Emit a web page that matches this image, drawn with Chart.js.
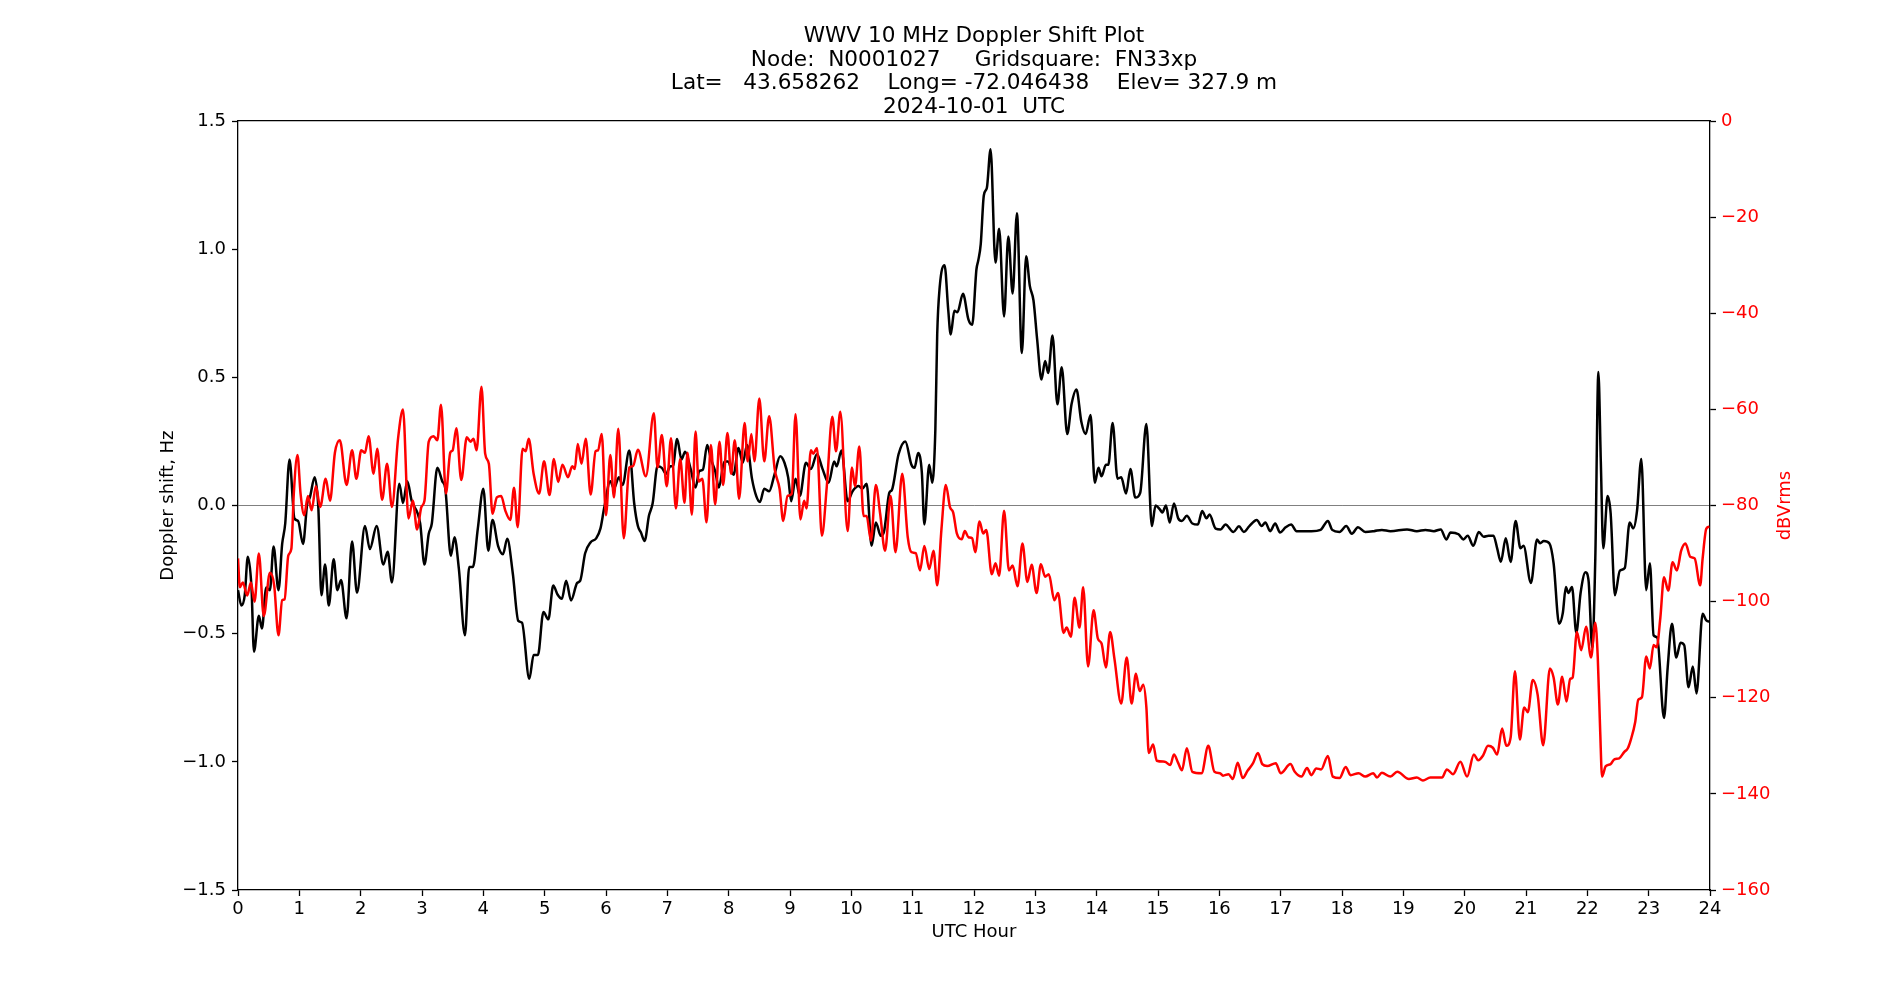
<!DOCTYPE html>
<html>
<head>
<meta charset="utf-8">
<title>WWV 10 MHz Doppler Shift Plot</title>
<script src="https://cdn.jsdelivr.net/npm/chart.js@4.4.1/dist/chart.umd.min.js"></script>
<style>
  html, body { margin: 0; padding: 0; background: #ffffff; }
  #doppler { display: block; }
</style>
</head>
<body>
<canvas id="doppler" width="1900" height="1000"></canvas>
<script>
// doppler plot – WWV 10 MHz, node N0001027, 2024-10-01

const titleLines = [
  "WWV 10 MHz Doppler Shift Plot",
  "Node:  N0001027     Gridsquare:  FN33xp",
  "Lat=   43.658262    Long= -72.046438    Elev= 327.9 m",
  "2024-10-01  UTC"
];

// black trace: Doppler shift (Hz) vs UTC hour
const dopplerHours = [
  0.00, 0.055, 0.11, 0.16, 0.22, 0.26, 0.34, 0.39, 0.46, 0.52, 0.58, 0.66, 0.72, 0.77, 0.84, 0.92, 0.98,
  1.06, 1.13, 1.17, 1.25, 1.31, 1.36, 1.42, 1.48, 1.56, 1.62, 1.68, 1.77, 1.86, 1.94,
  2.07, 2.15, 2.26, 2.37, 2.44, 2.51, 2.63, 2.69, 2.76, 2.83, 2.97,
  3.04, 3.11, 3.16, 3.25, 3.33, 3.38, 3.47, 3.53, 3.60, 3.70, 3.77, 3.83, 3.91,
  4.00, 4.08, 4.15, 4.24, 4.32, 4.39, 4.48, 4.57, 4.63, 4.75, 4.82, 4.89, 4.98,
  5.06, 5.14, 5.21, 5.28, 5.35, 5.43, 5.53, 5.58, 5.66, 5.75, 5.84, 5.91, 5.97,
  6.07, 6.13, 6.21, 6.27, 6.38, 6.46, 6.52, 6.57, 6.63, 6.70, 6.76, 6.84, 6.91, 6.98,
  7.05, 7.09, 7.16, 7.23, 7.29, 7.38, 7.46, 7.52, 7.58, 7.65, 7.71, 7.78, 7.84, 7.93, 7.99,
  8.08, 8.16, 8.23, 8.30, 8.38, 8.45, 8.51, 8.58, 8.66, 8.75, 8.84, 8.91, 8.97,
  9.02, 9.09, 9.16, 9.26, 9.34, 9.44, 9.53, 9.63, 9.72, 9.76, 9.84, 9.94,
  10.02, 10.12, 10.18, 10.25, 10.33, 10.40, 10.48, 10.53, 10.62, 10.66, 10.77, 10.88, 10.98,
  11.03, 11.09, 11.15, 11.19, 11.27, 11.32, 11.37, 11.40, 11.44, 11.52, 11.58, 11.62, 11.68, 11.73, 11.82, 11.91, 11.97,
  12.04, 12.07, 12.11, 12.16, 12.21, 12.27, 12.35, 12.41, 12.49, 12.56, 12.63, 12.70, 12.78, 12.85, 12.91, 12.97,
  13.03, 13.10, 13.16, 13.21, 13.28, 13.36, 13.43, 13.52, 13.59, 13.67, 13.75, 13.82, 13.90, 13.97,
  14.03, 14.08, 14.15, 14.19, 14.26, 14.34, 14.40, 14.48, 14.55, 14.63, 14.71, 14.81, 14.90, 14.96,
  15.03, 15.07, 15.13, 15.19, 15.26, 15.33, 15.39, 15.47, 15.56, 15.65, 15.72, 15.79, 15.84, 15.94,
  16.02, 16.10, 16.23, 16.32, 16.40, 16.49, 16.61, 16.69, 16.75, 16.83, 16.91, 16.99,
  17.08, 17.17, 17.26, 17.42, 17.50, 17.65, 17.77, 17.84, 17.96,
  18.07, 18.16, 18.26, 18.38, 18.52, 18.65, 18.79,
  19.06, 19.22, 19.36, 19.50, 19.61, 19.70, 19.77, 19.90, 19.98,
  20.05, 20.14, 20.23, 20.31, 20.39, 20.47, 20.53, 20.59, 20.67, 20.75, 20.83, 20.91, 20.96,
  21.08, 21.18, 21.23, 21.29, 21.38, 21.45, 21.54, 21.60, 21.65, 21.69, 21.75, 21.82, 21.89, 21.97,
  22.02, 22.08, 22.13, 22.18, 22.22, 22.26, 22.33, 22.38, 22.45, 22.53, 22.61, 22.69, 22.75, 22.81, 22.88, 22.96,
  23.02, 23.08, 23.14, 23.25, 23.31, 23.38, 23.45, 23.52, 23.58, 23.65, 23.72, 23.78, 23.88, 23.94, 24.00
];
const dopplerHz = [
  -0.33, -0.39, -0.35, -0.20, -0.32, -0.57, -0.43, -0.48, -0.32, -0.33, -0.16, -0.33, -0.15, -0.07, 0.18, -0.05, -0.06,
  -0.15, 0.01, 0.03, 0.11, -0.01, -0.35, -0.23, -0.39, -0.21, -0.33, -0.29, -0.44, -0.14, -0.34,
  -0.08, -0.17, -0.08, -0.23, -0.18, -0.30, 0.085, 0.01, 0.095, 0.02, -0.07,
  -0.23, -0.11, -0.07, 0.147, 0.095, 0.066, -0.196, -0.124, -0.244, -0.506, -0.24, -0.24, -0.09,
  0.066, -0.176, -0.056, -0.157, -0.19, -0.13, -0.264, -0.45, -0.457, -0.676, -0.583, -0.583, -0.415,
  -0.444, -0.312, -0.347, -0.364, -0.293, -0.37, -0.302, -0.293, -0.186, -0.143, -0.128, -0.089, -0.01,
  0.095, 0.066, 0.11, 0.08, 0.215, 0.008, -0.08, -0.105, -0.138, -0.04, 0.008, 0.153, 0.147, 0.124,
  0.153, 0.153, 0.26, 0.18, 0.21, 0.143, 0.07, 0.134, 0.14, 0.236, 0.182, 0.134, 0.07, 0.172, 0.172,
  0.12, 0.225, 0.167, 0.236, 0.105, 0.037, 0.014, 0.066, 0.056, 0.124, 0.192, 0.167, 0.11,
  0.017, 0.105, 0.037, 0.167, 0.143, 0.2, 0.143, 0.089, 0.172, 0.153, 0.215, 0.017,
  0.056, 0.076, 0.066, 0.085, -0.157, -0.066, -0.118, -0.105, 0.05, 0.06, 0.2, 0.25, 0.159,
  0.147, 0.205, 0.128, -0.074, 0.159, 0.089, 0.298, 0.667, 0.85, 0.938, 0.763, 0.667, 0.76, 0.754, 0.826, 0.725, 0.705,
  0.922, 0.957, 1.02, 1.21, 1.24, 1.39, 0.948, 1.08, 0.738, 1.05, 0.827, 1.14, 0.595, 0.973, 0.857, 0.80,
  0.647, 0.492, 0.564, 0.517, 0.663, 0.395, 0.54, 0.279, 0.395, 0.453, 0.327, 0.279, 0.353, 0.089,
  0.147, 0.114, 0.159, 0.159, 0.322, 0.105, 0.11, 0.047, 0.143, 0.031, 0.05, 0.318, -0.08, 0.0,
  -0.015, -0.027, 0.0, -0.066, 0.008, -0.05, -0.06, -0.04, -0.07, -0.074, -0.021, -0.05, -0.035, -0.09,
  -0.093, -0.074, -0.103, -0.081, -0.103, -0.08, -0.056, -0.08, -0.066, -0.1, -0.07, -0.105,
  -0.085, -0.074, -0.1, -0.1, -0.1, -0.095, -0.06, -0.095, -0.103,
  -0.08, -0.11, -0.085, -0.103, -0.1, -0.095, -0.1,
  -0.093, -0.1, -0.095, -0.1, -0.093, -0.132, -0.105, -0.112, -0.132,
  -0.118, -0.157, -0.103, -0.122, -0.118, -0.118, -0.167, -0.219, -0.128, -0.22, -0.06, -0.167, -0.157,
  -0.302, -0.132, -0.147, -0.138, -0.147, -0.225, -0.461, -0.419, -0.318, -0.341, -0.318, -0.496, -0.341, -0.26,
  -0.293, -0.554, -0.205, 0.521, 0.17, -0.167, 0.037, -0.03, -0.35, -0.254, -0.244, -0.066, -0.089, -0.021, 0.182, -0.33,
  -0.225, -0.506, -0.515, -0.829, -0.632, -0.461, -0.593, -0.535, -0.545, -0.709, -0.628, -0.733, -0.422, -0.448, -0.453
];

// red trace: received level (dBVrms) vs UTC hour
const powerHours = [
  0.00, 0.03, 0.08, 0.15, 0.21, 0.27, 0.34, 0.42, 0.52, 0.59, 0.66, 0.72, 0.76, 0.82, 0.87, 0.91, 0.97,
  1.02, 1.08, 1.14, 1.20, 1.27, 1.34, 1.43, 1.50, 1.58, 1.66, 1.77, 1.86, 1.93,
  2.01, 2.07, 2.13, 2.21, 2.27, 2.35, 2.43, 2.51, 2.61, 2.69, 2.78, 2.85, 2.92, 2.99,
  3.04, 3.11, 3.19, 3.25, 3.31, 3.39, 3.46, 3.50, 3.56, 3.64, 3.73, 3.79, 3.84, 3.89, 3.97,
  4.03, 4.09, 4.15, 4.22, 4.29, 4.36, 4.44, 4.50, 4.56, 4.64, 4.69, 4.74, 4.82, 4.91, 4.99,
  5.08, 5.15, 5.22, 5.29, 5.38, 5.45, 5.49, 5.54, 5.60, 5.67, 5.75, 5.83, 5.87, 5.93,
  6.00, 6.07, 6.13, 6.20, 6.29, 6.38, 6.44, 6.52, 6.65, 6.78, 6.84, 6.91, 6.99,
  7.06, 7.14, 7.21, 7.28, 7.33, 7.40, 7.46, 7.51, 7.57, 7.64, 7.71, 7.78, 7.85, 7.91, 7.98,
  8.04, 8.10, 8.17, 8.26, 8.31, 8.37, 8.42, 8.50, 8.58, 8.66, 8.75, 8.83, 8.89, 8.96,
  9.03, 9.09, 9.17, 9.23, 9.27, 9.34, 9.38, 9.44, 9.52, 9.60, 9.69, 9.75, 9.82, 9.94,
  10.01, 10.06, 10.13, 10.20, 10.25, 10.32, 10.40, 10.47, 10.55, 10.64, 10.72, 10.83, 10.92, 10.98,
  11.05, 11.12, 11.19, 11.27, 11.34, 11.40, 11.47, 11.54, 11.61, 11.66, 11.72, 11.80, 11.85, 11.91, 11.97,
  12.02, 12.09, 12.15, 12.20, 12.29, 12.35, 12.41, 12.49, 12.57, 12.63, 12.71, 12.79, 12.87, 12.94,
  13.02, 13.09, 13.16, 13.22, 13.31, 13.37, 13.46, 13.51, 13.58, 13.64, 13.72, 13.78, 13.86, 13.95,
  14.02, 14.08, 14.15, 14.22, 14.29, 14.40, 14.49, 14.57, 14.64, 14.70, 14.76, 14.81, 14.85, 14.92, 14.98,
  15.11, 15.20, 15.26, 15.33, 15.39, 15.47, 15.56, 15.71, 15.82, 15.92,
  16.01, 16.06, 16.15, 16.22, 16.30, 16.38, 16.46, 16.55, 16.63, 16.70, 16.78, 16.92,
  17.00, 17.16, 17.23, 17.34, 17.43, 17.50, 17.58, 17.66, 17.77, 17.85, 17.96,
  18.06, 18.14, 18.27, 18.38, 18.51, 18.57, 18.65, 18.79, 18.90,
  19.09, 19.22, 19.32, 19.44, 19.63, 19.71, 19.81, 19.93,
  20.04, 20.15, 20.22, 20.30, 20.38, 20.46, 20.53, 20.61, 20.68, 20.75, 20.82, 20.90, 20.97,
  21.03, 21.11, 21.19, 21.28, 21.39, 21.45, 21.52, 21.59, 21.66, 21.72, 21.76, 21.83, 21.90, 21.98,
  22.06, 22.13, 22.17, 22.21, 22.24, 22.30, 22.38, 22.44, 22.52, 22.60, 22.66, 22.71, 22.78, 22.83, 22.89, 22.96,
  23.02, 23.08, 23.13, 23.19, 23.25, 23.32, 23.39, 23.46, 23.53, 23.60, 23.68, 23.75, 23.84, 23.88, 23.94, 23.99
];
const powerDb = [
  -91, -97, -96, -98.7, -96, -100, -90, -103, -94, -96.6, -107, -99.7, -99.5, -90.4, -89, -77.5, -69.5,
  -77.5, -82, -78, -81, -76, -80.3, -74.4, -79, -69, -66.4, -75.7, -68.5, -74.4,
  -68.5, -69, -65.6, -73.4, -68.2, -78.8, -71.3, -80.3, -66, -60, -82.7, -79, -85, -80.3,
  -79, -66.7, -65.6, -66.4, -59, -77.5, -69, -68.5, -63.9, -74.7, -65.8, -66.7, -66.1, -68.5, -55.3,
  -69.2, -71.3, -81.7, -78.3, -78, -81.1, -83, -76.3, -84.5, -68.2, -68.7, -66.1, -73.4, -77.5, -70.8,
  -77.8, -70.3, -75.1, -71.5, -74.1, -71.8, -72.4, -67.2, -71.3, -66.1, -77.7, -68.7, -68.5, -65.1,
  -82, -69.5, -78.3, -64, -86.8, -72.1, -71.8, -68.4, -73.9, -60.8, -72.1, -65.3, -76,
  -66, -80.6, -70.3, -79.4, -69, -81.9, -64.6, -75, -74.4, -83.5, -67.4, -79.8, -66.7, -75.7, -64.9,
  -73.4, -66.4, -78.6, -62.8, -70.8, -65.1, -70.8, -57.7, -70.8, -61.4, -72.4, -76.5, -83.2, -78,
  -77.5, -61, -82.9, -79, -80.6, -68.5, -69.2, -68, -86.3, -76, -61.5, -68.7, -60.5, -85.3,
  -72.1, -76, -67.7, -82.2, -82.2, -87.3, -75.7, -81.7, -89.4, -78, -89.7, -73.4, -86.6, -89.7,
  -89.9, -93.5, -88.4, -93.2, -89.4, -96.6, -84.8, -75.7, -80.4, -81.4, -85.8, -87, -85.3, -86.6, -86.8,
  -89.7, -83.3, -85.8, -85.1, -94.3, -92, -94.6, -81.1, -93.5, -92.5, -96.8, -87.9, -95.9, -92.3,
  -98.2, -92.2, -94.8, -94.3, -99.7, -98.2, -106.5, -105.4, -107.3, -99.2, -105.4, -97, -113.5, -101.8,
  -107.7, -108.7, -113.7, -106.3, -111.9, -121.2, -111.6, -121.2, -115, -118.6, -117.3, -121.9, -131.5, -129.7, -133.1,
  -133.3, -134, -131.8, -133.6, -135.1, -130.5, -135.4, -135.7, -130, -135.4,
  -135.7, -136.2, -135.9, -136.9, -133.5, -136.7, -135.2, -133.6, -131.5, -133.8, -134.2, -133.6,
  -135.7, -133.8, -135.4, -136.4, -134.6, -136.1, -134.7, -134.9, -132.1, -136.4, -136.7,
  -134.4, -136.1, -135.7, -136.4, -135.7, -136.6, -135.6, -136.4, -135.4,
  -136.9, -136.6, -137.2, -136.6, -136.6, -134.9, -135.9, -133.3,
  -136.4, -131.8, -133, -132, -130, -130.4, -131.8, -126.4, -130, -128.2, -114.5, -128.7, -122,
  -123, -116.3, -119.4, -129.9, -113.9, -115.8, -121.4, -115.6, -120.8, -116.1, -115.8, -106.3, -110.1, -105.2,
  -111.6, -104.4, -111.6, -127.1, -136.4, -134.2, -133.8, -132.8, -132.6, -131.3, -130.5, -128.7, -125.1, -120.4, -119.9, -111.4,
  -113.9, -109, -109.5, -103.4, -94.9, -97.7, -91.8, -93.5, -89.4, -87.9, -90.7, -91, -96.6, -91, -84.8, -84.4
];

const hourTicks = [0, 1, 2, 3, 4, 5, 6, 7, 8, 9, 10, 11, 12, 13, 14, 15, 16, 17, 18, 19, 20, 21, 22, 23, 24];
const hzTicks = [-1.5, -1.0, -0.5, 0.0, 0.5, 1.0, 1.5];
const dbTicks = [-160, -140, -120, -100, -80, -60, -40, -20, 0];

const FONT = "'DejaVu Sans', 'Liberation Sans', sans-serif";
const TICK_PX = 18;     // 10pt @ 130 dpi
const TITLE_PX = 21.6;  // 12pt @ 130 dpi
const SPINE_W = 1.3;

function toPoints(xs, ys) {
  return xs.map((x, i) => ({ x: x, y: ys[i] }));
}

// matplotlib uses a real minus sign
function mplMinus(s) {
  return String(s).replace("-", "\u2212");
}

// right-hand y label, rotated the matplotlib way (bottom to top)
const rightLabel = {
  id: "rightLabel",
  afterDraw(chart) {
    const ctx = chart.ctx;
    const area = chart.chartArea;
    ctx.save();
    ctx.translate(1785, (area.top + area.bottom) / 2);
    ctx.rotate(-Math.PI / 2);
    ctx.font = TICK_PX + "px " + FONT;
    ctx.fillStyle = "#ff0000";
    ctx.textAlign = "center";
    ctx.textBaseline = "middle";
    ctx.fillText("dBVrms", 0, 0);
    ctx.restore();
  }
};

const ctx = document.getElementById("doppler").getContext("2d");

new Chart(ctx, {
  type: "line",
  data: {
    datasets: [
      {
        label: "dBVrms",
        data: toPoints(powerHours, powerDb),
        yAxisID: "y2",
        borderColor: "#ff0000",
        borderWidth: 2.5,
        pointRadius: 0,
        cubicInterpolationMode: "monotone",
        fill: false,
        order: 0
      },
      {
        label: "Doppler shift, Hz",
        data: toPoints(dopplerHours, dopplerHz),
        yAxisID: "y",
        borderColor: "#000000",
        borderWidth: 2.5,
        pointRadius: 0,
        cubicInterpolationMode: "monotone",
        fill: false,
        order: 1
      }
    ]
  },
  options: {
    responsive: false,
    animation: false,
    events: [],
    layout: { padding: { left: 48, right: 0, top: 0, bottom: 0 } },
    plugins: {
      legend: { display: false },
      tooltip: { enabled: false },
      title: {
        display: true,
        text: titleLines,
        color: "#000000",
        font: { family: FONT, size: TITLE_PX, weight: "normal", lineHeight: 23.4 / TITLE_PX },
        padding: { top: 25, bottom: 2.5 }
      }
    },
    scales: {
      x: {
        type: "linear",
        position: "bottom",
        min: 0,
        max: 24,
        afterBuildTicks: (scale) => { scale.ticks = hourTicks.map(v => ({ value: v })); },
        afterFit: (scale) => { scale.height = 110; },
        ticks: {
          color: "#000000",
          font: { family: FONT, size: TICK_PX },
          padding: 3,
          maxRotation: 0,
          autoSkip: false,
          callback: (v) => String(v)
        },
        grid: { drawOnChartArea: false, tickLength: 6, tickColor: "#000000", tickWidth: SPINE_W },
        border: { color: "#000000", width: SPINE_W },
        title: {
          display: true,
          text: "UTC Hour",
          color: "#000000",
          font: { family: FONT, size: TICK_PX },
          padding: { top: 0, bottom: 56.5 }
        }
      },
      xTop: {
        type: "linear",
        position: "top",
        min: 0,
        max: 24,
        afterFit: (scale) => { scale.height = 0; },
        ticks: { display: false },
        grid: { display: false },
        border: { display: true, color: "#000000", width: SPINE_W }
      },
      y: {
        type: "linear",
        position: "left",
        min: -1.5,
        max: 1.5,
        afterBuildTicks: (scale) => { scale.ticks = hzTicks.map(v => ({ value: v })); },
        afterFit: (scale) => { scale.width = 190; },
        ticks: {
          color: "#000000",
          font: { family: FONT, size: TICK_PX },
          padding: 6,
          callback: (v) => mplMinus(Number(v).toFixed(1))
        },
        grid: {
          drawOnChartArea: true,
          color: (c) => (c.tick && c.tick.value === 0 ? "#808080" : "rgba(0,0,0,0)"),
          lineWidth: 1,
          tickLength: 6,
          tickColor: "#000000",
          tickWidth: SPINE_W
        },
        border: { color: "#000000", width: SPINE_W },
        title: {
          display: true,
          text: "Doppler shift, Hz",
          color: "#000000",
          font: { family: FONT, size: TICK_PX },
          padding: { top: 110, bottom: 0 }
        }
      },
      y2: {
        type: "linear",
        position: "right",
        min: -160,
        max: 0,
        afterBuildTicks: (scale) => { scale.ticks = dbTicks.map(v => ({ value: v })); },
        afterFit: (scale) => { scale.width = 190; },
        ticks: {
          color: "#ff0000",
          font: { family: FONT, size: TICK_PX },
          padding: 5,
          callback: (v) => mplMinus(v)
        },
        grid: { drawOnChartArea: false, tickLength: 6, tickColor: "#000000", tickWidth: SPINE_W },
        border: { color: "#000000", width: SPINE_W }
      }
    }
  },
  plugins: [rightLabel]
});
</script>
</body>
</html>
